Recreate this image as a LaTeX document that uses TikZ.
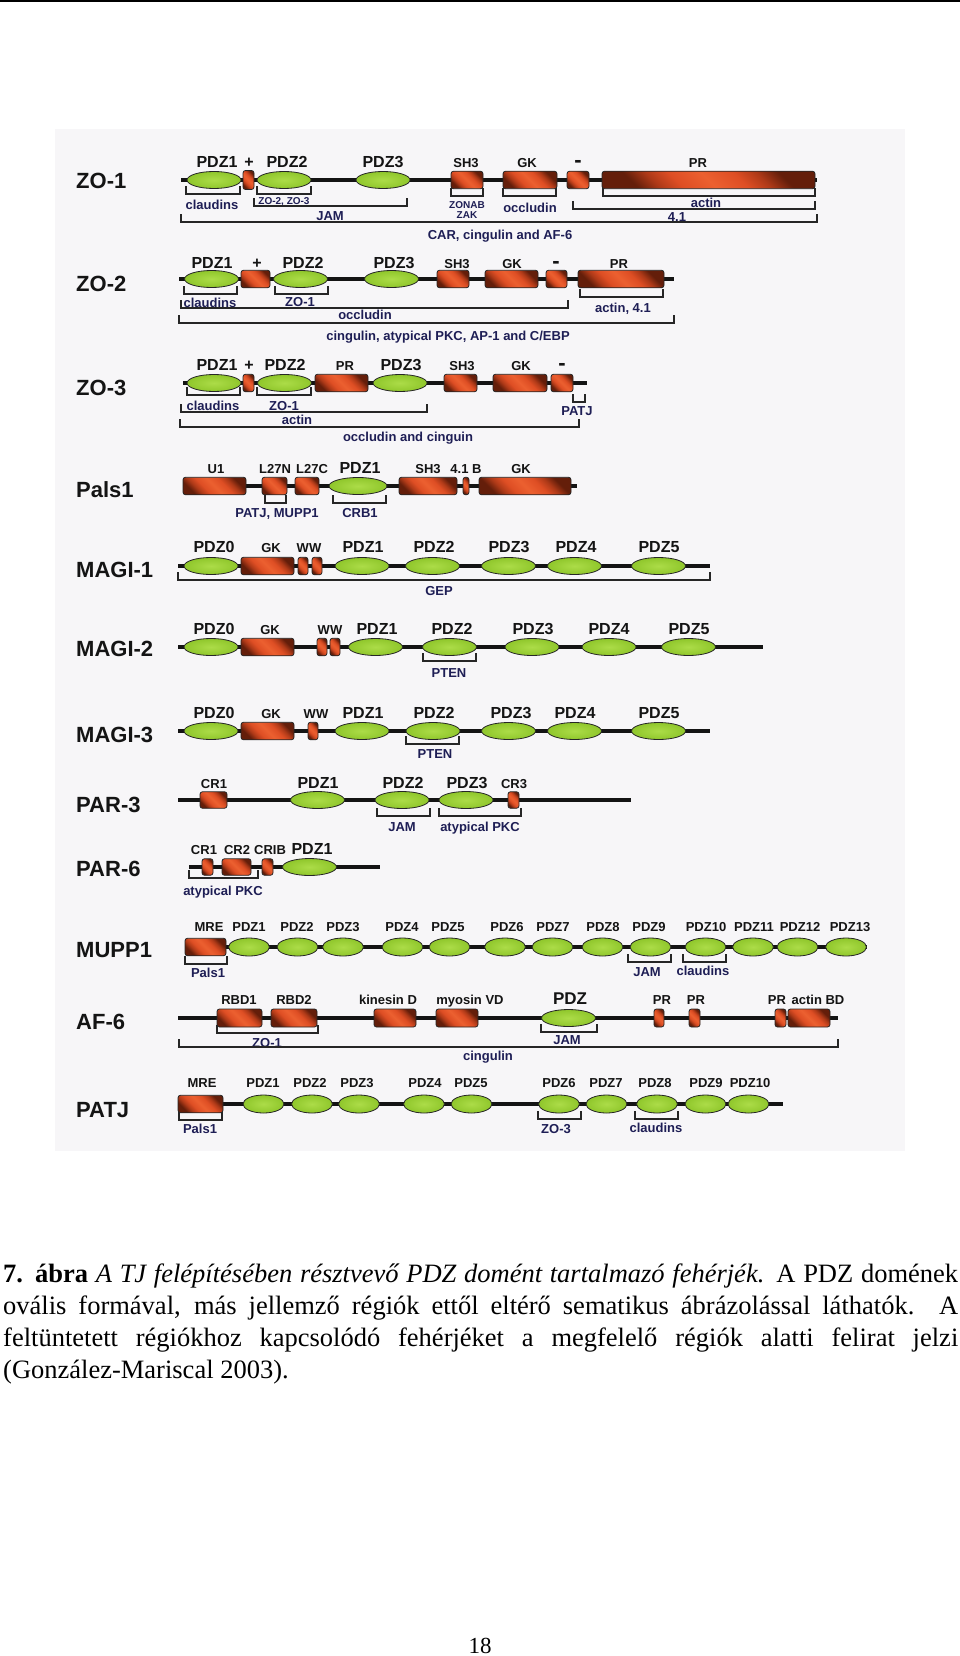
\documentclass[tikz,border=0pt]{standalone}
\usepackage{fontspec}
\setmainfont{Liberation Serif}
\setsansfont{Liberation Sans}
\usetikzlibrary{shapes.geometric}

\definecolor{ink}{RGB}{20,20,20}
\definecolor{navy}{RGB}{30,30,85}
\definecolor{panel}{RGB}{247,246,248}
\definecolor{orgl}{RGB}{236,96,48}
\definecolor{org}{RGB}{222,78,36}
\definecolor{orgm}{RGB}{175,58,24}
\definecolor{orgd}{RGB}{100,30,10}
\definecolor{grnl}{RGB}{172,220,72}
\definecolor{grn}{RGB}{140,196,40}
\definecolor{grnd}{RGB}{82,140,18}

\pgfdeclareradialshading{pdzshade}{\pgfpoint{0bp}{0bp}}{color(0bp)=(grnl); color(28bp)=(grn); color(50bp)=(grnd)}
\pgfdeclareverticalshading{boxshade}{100bp}{color(0bp)=(orgd); color(26bp)=(orgd); color(33bp)=(orgm); color(40bp)=(org); color(50bp)=(orgl); color(60bp)=(org); color(67bp)=(orgm); color(74bp)=(orgd); color(100bp)=(orgd)}

\tikzset{
  pname/.style={anchor=west,inner sep=0pt,text=ink,text height=15.8pt,text depth=0pt,
    font=\fontsize{22}{22}\selectfont\sffamily\bfseries},
  dlab/.style={inner sep=0pt,text=ink,text height=11.5pt,text depth=0pt,
    font=\fontsize{16}{16}\selectfont\sffamily\bfseries},
  mlab/.style={dlab,font=\fontsize{22}{22}\selectfont\sffamily\bfseries},
  slab/.style={dlab,text height=9.4pt,font=\fontsize{13}{13}\selectfont\sffamily\bfseries},
  blab/.style={slab,text=navy},
  tlab/.style={blab,text height=7.2pt,font=\fontsize{10}{10}\selectfont\sffamily\bfseries},
  pdzd/.style={ellipse,draw=black!85,line width=0.8pt,shade,shading=pdzshade,
    inner sep=0pt,minimum width=54pt,minimum height=17pt},
  pdzs/.style={pdzd,minimum width=41pt,minimum height=18pt},
  boxd/.style={rectangle,rounded corners=2.5pt,draw=black!85,line width=0.8pt,
    shade,shading=boxshade,shading angle=-45,
    inner sep=0pt,minimum height=17.5pt},
  bb/.style={line width=4.5pt,ink},
  brk/.style={line width=1.3pt,black!85},
  captxt/.style={inner sep=0pt,text=black,font=\fontsize{26.5}{32}\selectfont\rmfamily},
}
\newcommand\bindbr[3]{\draw[brk] (#1,#3-8) -- (#1,#3) -- (#2,#3) -- (#2,#3-8);}

\begin{document}
\begin{tikzpicture}[x=1pt,y=-1pt]
\useasboundingbox (0,0) rectangle (960,1656);
\draw[line width=2pt] (0,1) -- (960,1);
\fill[panel] (55,129) rectangle (905,1151);

% ZO-1
\node[pname] (zo1) at (76,181) {ZO-1};
\draw[bb] (181,180) -- (817,180);
\node[pdzd] (zo1-p1) at (214,180) {};
\node[boxd,minimum width=11pt,minimum height=19pt] (zo1-pl) at (248.5,180) {};
\node[pdzd] (zo1-p2) at (284,180) {};
\node[pdzd] (zo1-p3) at (383,180) {};
\node[boxd,minimum width=32pt] (zo1-sh3) at (467,180) {};
\node[boxd,minimum width=54pt] (zo1-gk) at (530,180) {};
\node[boxd,minimum width=22pt] (zo1-mi) at (578,180) {};
\node[boxd,minimum width=213pt] (zo1-pr) at (708.5,180) {};
\node[dlab] (zo1-p1-t) at (217,162) {PDZ1};
\node[dlab] (zo1-pl-t) at (249,162) {+};
\node[dlab] (zo1-p2-t) at (287,162) {PDZ2};
\node[dlab] (zo1-p3-t) at (383,162) {PDZ3};
\node[slab] (zo1-sh3-t) at (466,163) {SH3};
\node[slab] (zo1-gk-t) at (527,163) {GK};
\node[mlab] (zo1-mi-t) at (578,162) {-};
\node[slab] (zo1-pr-t) at (698,163) {PR};
\bindbr{186}{240}{194}
\node[blab] (zo1-b1) at (212,205) {claudins};
\bindbr{257}{311}{194}
\node[tlab] (zo1-b2) at (284,201) {ZO-2, ZO-3};
\bindbr{254}{407}{206}
\node[blab] (zo1-b3) at (330,216) {JAM};
\bindbr{451}{483}{196}
\node[tlab] (zo1-b4) at (467,205) {ZONAB};
\node[tlab] (zo1-b5) at (467,215) {ZAK};
\bindbr{503}{556}{196}
\node[blab] (zo1-b6) at (530,208) {occludin};
\bindbr{603}{815}{196}
\node[blab] (zo1-b7) at (706,203) {actin};
\bindbr{573}{815}{209}
\node[blab] (zo1-b8) at (677,217) {4.1};
\bindbr{181}{817}{222}
\node[blab] (zo1-b9) at (500,235) {CAR, cingulin and AF-6};

% ZO-2
\node[pname] (zo2) at (76,284) {ZO-2};
\draw[bb] (179,279) -- (674,279);
\node[pdzd] (zo2-p1) at (211.5,279) {};
\node[boxd,minimum width=29pt] (zo2-pl) at (255.5,279) {};
\node[pdzd] (zo2-p2) at (300.5,279) {};
\node[pdzd] (zo2-p3) at (391.5,279) {};
\node[boxd,minimum width=32pt] (zo2-sh3) at (453,279) {};
\node[boxd,minimum width=53pt] (zo2-gk) at (511.5,279) {};
\node[boxd,minimum width=21pt] (zo2-mi) at (556.5,279) {};
\node[boxd,minimum width=86pt] (zo2-pr) at (621,279) {};
\node[dlab] (zo2-p1-t) at (212,263) {PDZ1};
\node[dlab] (zo2-pl-t) at (257,263) {+};
\node[dlab] (zo2-p2-t) at (303,263) {PDZ2};
\node[dlab] (zo2-p3-t) at (394,263) {PDZ3};
\node[slab] (zo2-sh3-t) at (457,264) {SH3};
\node[slab] (zo2-gk-t) at (512,264) {GK};
\node[mlab] (zo2-mi-t) at (556,263) {-};
\node[slab] (zo2-pr-t) at (619,264) {PR};
\bindbr{184}{237}{294}
\node[blab] (zo2-b1) at (210,303) {claudins};
\bindbr{275}{328}{294}
\node[blab] (zo2-b2) at (300,302) {ZO-1};
\bindbr{181}{568}{308}
\node[blab] (zo2-b3) at (365,315) {occludin};
\bindbr{580}{663}{297}
\node[blab] (zo2-b4) at (623,308) {actin, 4.1};
\bindbr{179}{674}{323}
\node[blab] (zo2-b5) at (448,336) {cingulin, atypical PKC, AP-1 and C/EBP};

% ZO-3
\node[pname] (zo3) at (76,388) {ZO-3};
\draw[bb] (183,383) -- (587,383);
\node[pdzd] (zo3-p1) at (214,383) {};
\node[boxd,minimum width=11pt] (zo3-pl) at (248.5,383) {};
\node[pdzd] (zo3-p2) at (284.5,383) {};
\node[boxd,minimum width=53pt] (zo3-pr) at (341.5,383) {};
\node[pdzd] (zo3-p3) at (400,383) {};
\node[boxd,minimum width=33pt] (zo3-sh3) at (460.5,383) {};
\node[boxd,minimum width=54pt] (zo3-gk) at (520,383) {};
\node[boxd,minimum width=22pt] (zo3-mi) at (562,383) {};
\node[dlab] (zo3-p1-t) at (217,365) {PDZ1};
\node[dlab] (zo3-pl-t) at (249,365) {+};
\node[dlab] (zo3-p2-t) at (285,365) {PDZ2};
\node[slab] (zo3-pr-t) at (345,366) {PR};
\node[dlab] (zo3-p3-t) at (401,365) {PDZ3};
\node[slab] (zo3-sh3-t) at (462,366) {SH3};
\node[slab] (zo3-gk-t) at (521,366) {GK};
\node[mlab] (zo3-mi-t) at (562,365) {-};
\bindbr{187}{240}{395}
\node[blab] (zo3-b1) at (213,406) {claudins};
\bindbr{257}{311}{395}
\node[blab] (zo3-b2) at (284,406) {ZO-1};
\bindbr{181}{427}{412}
\node[blab] (zo3-b3) at (297,420) {actin};
\bindbr{180}{579}{427}
\node[blab] (zo3-b4) at (408,437) {occludin and cinguin};
\bindbr{573}{585}{402}
\node[blab] (zo3-b5) at (577,411) {PATJ};

% Pals1
\node[pname] (pals) at (76,490) {Pals1};
\draw[bb] (183,486) -- (577,486);
\node[boxd,minimum width=63pt] (pals-u1) at (214.5,486) {};
\node[boxd,minimum width=25pt] (pals-l27n) at (274.5,486) {};
\node[boxd,minimum width=24pt] (pals-l27c) at (307,486) {};
\node[pdzd,minimum width=58pt] (pals-p1) at (358,486) {};
\node[boxd,minimum width=58pt] (pals-sh3) at (428,486) {};
\node[boxd,minimum width=6pt] (pals-41b) at (466,486) {};
\node[boxd,minimum width=92pt] (pals-gk) at (525,486) {};
\node[slab] (pals-u1-t) at (216,469) {U1};
\node[slab] (pals-l27n-t) at (275,469) {L27N};
\node[slab] (pals-l27c-t) at (312,469) {L27C};
\node[dlab] (pals-p1-t) at (360,468) {PDZ1};
\node[slab] (pals-sh3-t) at (428,469) {SH3};
\node[slab] (pals-41b-t) at (466,469) {4.1 B};
\node[slab] (pals-gk-t) at (521,469) {GK};
\bindbr{265}{286}{503}
\node[blab] (pals-b1) at (277,513) {PATJ, MUPP1};
\bindbr{333}{386}{503}
\node[blab] (pals-b2) at (360,513) {CRB1};

% MAGI-1
\node[pname] (mg1) at (76,570) {MAGI-1};
\draw[bb] (178,566) -- (710,566);
\node[pdzd] (mg1-p0) at (211,566) {};
\node[boxd,minimum width=53pt] (mg1-gk) at (267.5,566) {};
\node[boxd,minimum width=10pt] (mg1-ww1) at (303,566) {};
\node[boxd,minimum width=10pt] (mg1-ww2) at (317,566) {};
\node[pdzd] (mg1-p1) at (362,566) {};
\node[pdzd] (mg1-p2) at (432.5,566) {};
\node[pdzd] (mg1-p3) at (508.5,566) {};
\node[pdzd] (mg1-p4) at (574.5,566) {};
\node[pdzd] (mg1-p5) at (658.5,566) {};
\node[dlab] (mg1-p0-t) at (214,547) {PDZ0};
\node[slab] (mg1-gk-t) at (271,548) {GK};
\node[slab] (mg1-ww-t) at (309,548) {WW};
\node[dlab] (mg1-p1-t) at (363,547) {PDZ1};
\node[dlab] (mg1-p2-t) at (434,547) {PDZ2};
\node[dlab] (mg1-p3-t) at (509,547) {PDZ3};
\node[dlab] (mg1-p4-t) at (576,547) {PDZ4};
\node[dlab] (mg1-p5-t) at (659,547) {PDZ5};
\bindbr{178}{710}{580}
\node[blab] (mg1-b1) at (439,591) {GEP};

% MAGI-2
\node[pname] (mg2) at (76,649) {MAGI-2};
\draw[bb] (178,647) -- (763,647);
\node[pdzd] (mg2-p0) at (211,647) {};
\node[boxd,minimum width=53pt] (mg2-gk) at (267.5,647) {};
\node[boxd,minimum width=10pt] (mg2-ww1) at (322,647) {};
\node[boxd,minimum width=10pt] (mg2-ww2) at (335,647) {};
\node[pdzd] (mg2-p1) at (375.5,647) {};
\node[pdzd] (mg2-p2) at (449.5,647) {};
\node[pdzd] (mg2-p3) at (532,647) {};
\node[pdzd] (mg2-p4) at (609,647) {};
\node[pdzd] (mg2-p5) at (688.5,647) {};
\node[dlab] (mg2-p0-t) at (214,629) {PDZ0};
\node[slab] (mg2-gk-t) at (270,630) {GK};
\node[slab] (mg2-ww-t) at (330,630) {WW};
\node[dlab] (mg2-p1-t) at (377,629) {PDZ1};
\node[dlab] (mg2-p2-t) at (452,629) {PDZ2};
\node[dlab] (mg2-p3-t) at (533,629) {PDZ3};
\node[dlab] (mg2-p4-t) at (609,629) {PDZ4};
\node[dlab] (mg2-p5-t) at (689,629) {PDZ5};
\bindbr{423}{476}{661}
\node[blab] (mg2-b1) at (449,673) {PTEN};

% MAGI-3
\node[pname] (mg3) at (76,735) {MAGI-3};
\draw[bb] (178,731) -- (710,731);
\node[pdzd] (mg3-p0) at (211,731) {};
\node[boxd,minimum width=53pt] (mg3-gk) at (267.5,731) {};
\node[boxd,minimum width=10pt] (mg3-ww) at (313,731) {};
\node[pdzd] (mg3-p1) at (362,731) {};
\node[pdzd] (mg3-p2) at (433,731) {};
\node[pdzd] (mg3-p3) at (508.5,731) {};
\node[pdzd] (mg3-p4) at (574.5,731) {};
\node[pdzd] (mg3-p5) at (658.5,731) {};
\node[dlab] (mg3-p0-t) at (214,713) {PDZ0};
\node[slab] (mg3-gk-t) at (271,714) {GK};
\node[slab] (mg3-ww-t) at (316,714) {WW};
\node[dlab] (mg3-p1-t) at (363,713) {PDZ1};
\node[dlab] (mg3-p2-t) at (434,713) {PDZ2};
\node[dlab] (mg3-p3-t) at (511,713) {PDZ3};
\node[dlab] (mg3-p4-t) at (575,713) {PDZ4};
\node[dlab] (mg3-p5-t) at (659,713) {PDZ5};
\bindbr{406}{459}{744}
\node[blab] (mg3-b1) at (435,754) {PTEN};

% PAR-3
\node[pname] (par3) at (76,805) {PAR-3};
\draw[bb] (178,800) -- (631,800);
\node[boxd,minimum width=27pt,minimum height=16.5pt] (par3-cr1) at (213.5,800) {};
\node[pdzd] (par3-p1) at (317.5,800) {};
\node[pdzd] (par3-p2) at (402,800) {};
\node[pdzd] (par3-p3) at (466,800) {};
\node[boxd,minimum width=11pt,minimum height=16.5pt] (par3-cr3) at (513.5,800) {};
\node[slab] (par3-cr1-t) at (214,784) {CR1};
\node[dlab] (par3-p1-t) at (318,783) {PDZ1};
\node[dlab] (par3-p2-t) at (403,783) {PDZ2};
\node[dlab] (par3-p3-t) at (467,783) {PDZ3};
\node[slab] (par3-cr3-t) at (514,784) {CR3};
\bindbr{377}{430}{816}
\node[blab] (par3-b1) at (402,827) {JAM};
\bindbr{439}{521}{816}
\node[blab] (par3-b2) at (480,827) {atypical PKC};

% PAR-6
\node[pname] (par6) at (76,869) {PAR-6};
\draw[bb] (189,867) -- (380,867);
\node[boxd,minimum width=11pt,minimum height=16.5pt] (par6-cr1) at (207.5,867) {};
\node[boxd,minimum width=29pt,minimum height=16.5pt] (par6-cr2) at (236.5,867) {};
\node[boxd,minimum width=11pt,minimum height=16.5pt] (par6-crib) at (267.5,867) {};
\node[pdzd] (par6-p1) at (309.5,867) {};
\node[slab] (par6-cr1-t) at (204,850) {CR1};
\node[slab] (par6-cr2-t) at (237,850) {CR2};
\node[slab] (par6-crib-t) at (270,850) {CRIB};
\node[dlab] (par6-p1-t) at (312,849) {PDZ1};
\bindbr{189}{258}{878}
\node[blab] (par6-b1) at (223,891) {atypical PKC};

% MUPP1
\node[pname] (mupp) at (76,950) {MUPP1};
\draw[bb] (185,947) -- (867,947);
\node[boxd,minimum width=41pt] (mupp-mre) at (205.5,947) {};
\node[pdzs] (mupp-p1) at (249,947) {};
\node[pdzs] (mupp-p2) at (297.5,947) {};
\node[pdzs] (mupp-p3) at (343,947) {};
\node[pdzs] (mupp-p4) at (402.5,947) {};
\node[pdzs] (mupp-p5) at (449.5,947) {};
\node[pdzs] (mupp-p6) at (505,947) {};
\node[pdzs] (mupp-p7) at (552.5,947) {};
\node[pdzs] (mupp-p8) at (602.5,947) {};
\node[pdzs] (mupp-p9) at (650.5,947) {};
\node[pdzs] (mupp-p10) at (705.5,947) {};
\node[pdzs] (mupp-p11) at (753,947) {};
\node[pdzs] (mupp-p12) at (797.5,947) {};
\node[pdzs] (mupp-p13) at (846,947) {};
\node[slab] (mupp-mre-t) at (209,927) {MRE};
\node[slab] (mupp-p1-t) at (249,927) {PDZ1};
\node[slab] (mupp-p2-t) at (297,927) {PDZ2};
\node[slab] (mupp-p3-t) at (343,927) {PDZ3};
\node[slab] (mupp-p4-t) at (402,927) {PDZ4};
\node[slab] (mupp-p5-t) at (448,927) {PDZ5};
\node[slab] (mupp-p6-t) at (507,927) {PDZ6};
\node[slab] (mupp-p7-t) at (553,927) {PDZ7};
\node[slab] (mupp-p8-t) at (603,927) {PDZ8};
\node[slab] (mupp-p9-t) at (649,927) {PDZ9};
\node[slab] (mupp-p10-t) at (706,927) {PDZ10};
\node[slab] (mupp-p11-t) at (754,927) {PDZ11};
\node[slab] (mupp-p12-t) at (800,927) {PDZ12};
\node[slab] (mupp-p13-t) at (850,927) {PDZ13};
\bindbr{185}{227}{964}
\node[blab] (mupp-b1) at (208,973) {Pals1};
\bindbr{628}{671}{962}
\node[blab] (mupp-b2) at (647,972) {JAM};
\bindbr{683}{726}{962}
\node[blab] (mupp-b3) at (703,971) {claudins};

% AF-6
\node[pname] (af6) at (76,1022) {AF-6};
\draw[bb] (178,1018) -- (838,1018);
\node[boxd,minimum width=45pt,minimum height=18pt] (af6-rbd1) at (239.5,1018) {};
\node[boxd,minimum width=46pt,minimum height=18pt] (af6-rbd2) at (294,1018) {};
\node[boxd,minimum width=42pt,minimum height=18pt] (af6-kin) at (395,1018) {};
\node[boxd,minimum width=42pt,minimum height=18pt] (af6-myo) at (457,1018) {};
\node[pdzd] (af6-pdz) at (568.5,1018) {};
\node[boxd,minimum width=10pt,minimum height=18pt] (af6-pr1) at (659,1018) {};
\node[boxd,minimum width=11pt,minimum height=18pt] (af6-pr2) at (694.5,1018) {};
\node[boxd,minimum width=11pt,minimum height=18pt] (af6-pr3) at (780.5,1018) {};
\node[boxd,minimum width=42pt,minimum height=18pt] (af6-abd) at (809,1018) {};
\node[slab] (af6-rbd1-t) at (239,1000) {RBD1};
\node[slab] (af6-rbd2-t) at (294,1000) {RBD2};
\node[slab] (af6-kin-t) at (388,1000) {kinesin D};
\node[slab] (af6-myo-t) at (470,1000) {myosin VD};
\node[dlab,font=\fontsize{17}{17}\selectfont\sffamily\bfseries] (af6-pdz-t) at (570,999) {PDZ};
\node[slab] (af6-pr1-t) at (662,1000) {PR};
\node[slab] (af6-pr2-t) at (696,1000) {PR};
\node[slab] (af6-pr3-t) at (777,1000) {PR};
\node[slab] (af6-abd-t) at (818,1000) {actin BD};
\bindbr{217}{318}{1033}
\node[blab] (af6-b1) at (267,1043) {ZO-1};
\bindbr{541}{597}{1032}
\node[blab] (af6-b2) at (567,1040) {JAM};
\bindbr{179}{838}{1047}
\node[blab] (af6-b3) at (488,1056) {cingulin};

% PATJ
\node[pname] (patj) at (76,1110) {PATJ};
\draw[bb] (178,1104) -- (783,1104);
\node[boxd,minimum width=45pt] (patj-mre) at (200.5,1104) {};
\node[pdzs] (patj-p1) at (263.5,1104) {};
\node[pdzs] (patj-p2) at (312,1104) {};
\node[pdzs] (patj-p3) at (359,1104) {};
\node[pdzs] (patj-p4) at (424,1104) {};
\node[pdzs] (patj-p5) at (471.5,1104) {};
\node[pdzs] (patj-p6) at (559,1104) {};
\node[pdzs] (patj-p7) at (606.5,1104) {};
\node[pdzs] (patj-p8) at (657,1104) {};
\node[pdzs] (patj-p9) at (705.5,1104) {};
\node[pdzs] (patj-p10) at (748.5,1104) {};
\node[slab] (patj-mre-t) at (202,1083) {MRE};
\node[slab] (patj-p1-t) at (263,1083) {PDZ1};
\node[slab] (patj-p2-t) at (310,1083) {PDZ2};
\node[slab] (patj-p3-t) at (357,1083) {PDZ3};
\node[slab] (patj-p4-t) at (425,1083) {PDZ4};
\node[slab] (patj-p5-t) at (471,1083) {PDZ5};
\node[slab] (patj-p6-t) at (559,1083) {PDZ6};
\node[slab] (patj-p7-t) at (606,1083) {PDZ7};
\node[slab] (patj-p8-t) at (655,1083) {PDZ8};
\node[slab] (patj-p9-t) at (706,1083) {PDZ9};
\node[slab] (patj-p10-t) at (750,1083) {PDZ10};
\bindbr{179}{222}{1120}
\node[blab] (patj-b1) at (200,1129) {Pals1};
\bindbr{538}{581}{1119}
\node[blab] (patj-b2) at (556,1129) {ZO-3};
\bindbr{635}{678}{1119}
\node[blab] (patj-b3) at (656,1128) {claudins};

% caption
\node[captxt,anchor=base west] (cap1) at (3,1282) {\makebox[955pt][s]{\textbf{7. ábra} \textit{A TJ felépítésében résztvevő PDZ domént tartalmazó fehérjék.} A PDZ domének}};
\node[captxt,anchor=base west] (cap2) at (3,1314) {\makebox[955pt][s]{ovális formával, más jellemző régiók ettől eltérő sematikus ábrázolással láthatók. A}};
\node[captxt,anchor=base west] (cap3) at (3,1346) {\makebox[955pt][s]{feltüntetett régiókhoz kapcsolódó fehérjéket a megfelelő régiók alatti felirat jelzi}};
\node[captxt,anchor=base west] (cap4) at (3,1378) {(González-Mariscal 2003).};
\node[captxt,anchor=base,font=\fontsize{23}{23}\selectfont\rmfamily] (pgnum) at (480,1653) {18};
\end{tikzpicture}
\end{document}
